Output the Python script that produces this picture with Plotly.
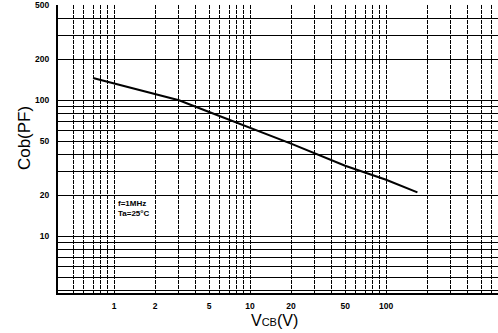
import numpy as np
import plotly.graph_objects as go

# Data (Cob vs VCB)
vcb = [0.7, 1, 2, 3, 5, 10, 20, 50, 100, 170]
cob = [146, 133, 112, 100, 82, 63, 48, 33, 26, 21]

x_tick_vals = [1, 2, 5, 10, 20, 50, 100]
x_tick_text = ["1", "2", "5", "10", "20", "50", "100"]
y_tick_vals = [10, 20, 50, 100, 200, 500]
y_tick_text = ["10", "20", "50", "100", "200", "500"]

x_grid = [0.5, 0.6, 0.7, 0.8, 0.9, 1, 2, 3, 4, 5, 6, 7, 8, 9, 10, 20, 30, 40, 50,
          60, 70, 80, 90, 100, 200, 300, 400, 500, 600]
y_grid = [4, 5, 6, 7, 8, 9, 10, 20, 30, 40, 50, 60, 70, 80, 90, 100, 200, 300, 400, 500]

W, H = 498, 333
ml, mr, mt, mb = 58, 0, 3, 40

fig = go.Figure()
fig.add_trace(go.Scatter(x=vcb, y=cob, mode="lines",
                         line=dict(color="black", width=2), showlegend=False,
                         hoverinfo="skip"))

tickfont = dict(family="Liberation Sans", size=8.5, color="black", weight=700)

fig.update_xaxes(
    type="log", range=[np.log10(0.387), np.log10(665)],
    tickmode="array", tickvals=x_tick_vals, ticktext=x_tick_text,
    tickfont=tickfont, ticks="", ticklabelstandoff=4,
    showgrid=False,
    minor=dict(tickmode="array", tickvals=x_grid, showgrid=True,
               gridcolor="black", gridwidth=1.3, griddash="4px,1px", ticks=""),
    showline=True, linecolor="black", linewidth=2, mirror=False,
    zeroline=False,
)
fig.update_yaxes(
    type="log", range=[np.log10(3.82), np.log10(500) + 0.002],
    tickmode="array", tickvals=y_tick_vals, ticktext=y_tick_text,
    tickfont=tickfont, ticks="", ticklabelstandoff=5,
    ticklabeloverflow="allow",
    showgrid=False,
    minor=dict(tickmode="array", tickvals=y_grid, showgrid=True,
               gridcolor="black", gridwidth=1.2, ticks=""),
    showline=True, linecolor="black", linewidth=2, mirror=False,
    zeroline=False,
)

fig.add_annotation(text="Cob(PF)", xref="paper", yref="paper",
                   x=(24 - ml) / (W - ml - mr), y=(H - mb - 137) / (H - mt - mb),
                   xanchor="center", yanchor="middle",
                   textangle=-90, showarrow=False,
                   font=dict(family="Liberation Sans", size=17, color="black"))
fig.add_annotation(text="V<span style='font-size:11px'>CB</span>(V)",
                   xref="paper", yref="paper",
                   x=(274 - ml) / (W - ml - mr), y=-(321 - (H - mb)) / (H - mt - mb),
                   xanchor="center", yanchor="middle", showarrow=False,
                   font=dict(family="Liberation Sans", size=16, color="black"))
fig.add_annotation(text="f=1MHz<br>Ta=25°C", xref="paper", yref="paper",
                   x=(117 - ml) / (W - ml - mr), y=(H - mb - 197) / (H - mt - mb),
                   xanchor="left", yanchor="top", align="left", showarrow=False,
                   bgcolor="white", borderpad=0,
                   font=dict(family="Liberation Sans", size=8, color="black", weight=700))

fig.update_layout(
    width=W, height=H,
    margin=dict(l=ml, r=mr, t=mt, b=mb),
    paper_bgcolor="white", plot_bgcolor="white",
)

fig.write_html("out.html")
